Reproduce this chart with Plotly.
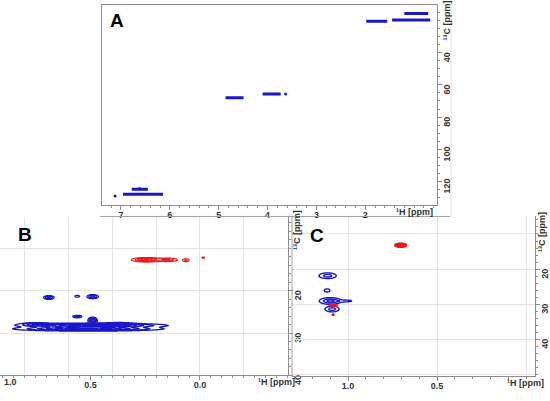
import numpy as np
import plotly.graph_objects as go

BLUE = '#1818c8'
RED = '#ec1a1a'
AXC = '#8c8c8c'
GRID = '#e4e4e4'
TXC = '#333333'
FONT = 'Liberation Sans'

# ---------------- Panel A: HSQC strips (1H start, 1H end, 13C) ----------------
a_h_start = [1.20, 1.98, 1.45, 4.86, 4.10, 6.96, 6.78]
a_h_end = [0.71, 1.55, 0.67, 4.49, 3.73, 6.14, 6.45]
a_c = [15.6, 20.4, 19.7, 68.0, 65.6, 128.0, 124.8]
a_dot_h = [3.63, 7.12, 6.62]
a_dot_c = [65.6, 129.0, 124.4]

# ---------------- Panel B peaks ----------------
b_blue_h = [0.49, 0.51, 0.75, 0.37, 0.69, 0.56, 0.49, 0.56, 0.49]
b_blue_c = [28.2, 29.0, 27.9, 27.9, 21.6, 21.3, 21.4, 26.1, 27.0]
b_blue_amp = [1.0, 1.0, 0.4, 0.4, 0.5, 0.25, 0.5, 0.4, 0.8]
b_blue_wh = [0.25, 0.25, 0.06, 0.06, 0.022, 0.015, 0.024, 0.021, 0.017]
b_blue_wc = [0.40, 0.40, 0.35, 0.35, 0.41, 0.30, 0.45, 0.30, 0.60]

b_red_h = [0.245, 0.15, 0.064, -0.015]
b_red_c = [12.7, 12.7, 12.8, 12.2]
b_red_amp = [1.0, 0.6, 0.4, 0.2]
b_red_wh = [0.05, 0.04, 0.015, 0.012]
b_red_wc = [0.40, 0.35, 0.35, 0.30]

# ---------------- Panel C peaks ----------------
c_blue_h = [1.115, 1.118, 1.10, 1.02, 1.09]
c_blue_c = [21.9, 26.1, 29.1, 29.1, 31.4]
c_blue_amp = [0.7, 0.35, 1.0, 0.4, 0.7]
c_blue_wh = [0.039, 0.017, 0.045, 0.04, 0.032]
c_blue_wc = [0.65, 0.50, 0.70, 0.25, 0.65]

c_red_h = [0.705, 1.084, 1.084]
c_red_c = [13.2, 30.3, 33.0]
c_red_amp = [1.0, 0.6, 0.3]
c_red_wh = [0.025, 0.021, 0.008]
c_red_wc = [0.47, 0.25, 0.30]

# axis tick labels
a_x_ticks = [2, 3, 4, 5, 6, 7]
a_x_text = ['2', '3', '4', '5', '6', '7']
a_y_ticks = [40, 60, 80, 100, 120]
a_y_text = ['40', '60', '80', '100', '120']
b_x_ticks = [0.5, 0.0]
b_x_text = ['0.5', '0.0']
bc_y_ticks = [20, 30, 40]
bc_y_text = ['20', '30', '40']
c_x_ticks = [1.0, 0.5]
c_x_text = ['1.0', '0.5']

W, H = 550, 401


def px_x(p):
    return p / W


def px_y(p):
    return 1 - p / H


def field(hs, cs, amps, whs, wcs):
    hs, cs, amps, whs, wcs = map(np.asarray, (hs, cs, amps, whs, wcs))
    h0, h1 = (hs - 3 * whs).min(), (hs + 3 * whs).max()
    c0, c1 = (cs - 3 * wcs).min(), (cs + 3 * wcs).max()
    nh = int(min(600, max(60, (h1 - h0) / (whs.min() / 4))))
    nc = int(min(400, max(60, (c1 - c0) / (wcs.min() / 4))))
    hg = np.linspace(h0, h1, nh)
    cg = np.linspace(c0, c1, nc)
    HH, CC = np.meshgrid(hg, cg)
    Z = np.zeros_like(HH)
    for h, c, a, wh, wc in zip(hs, cs, amps, whs, wcs):
        Z += a * np.exp(-((HH - h) / wh) ** 2 - ((CC - c) / wc) ** 2)
    return np.round(hg, 4), np.round(cg, 3), np.round(Z, 3)


def contour(hs, cs, amps, whs, wcs, color, xa, ya, step, lw=1.1):
    hg, cg, Z = field(hs, cs, amps, whs, wcs)
    return go.Contour(
        x=hg, y=cg, z=Z, xaxis=xa, yaxis=ya,
        autocontour=False,
        contours=dict(start=0.15, end=0.99, size=step, coloring='lines'),
        colorscale=[[0, color], [1, color]],
        line=dict(width=lw, smoothing=1),
        showscale=False, hoverinfo='skip')


fig = go.Figure()

# empty traces that create the grid-only overlay subplots
for xa, ya in [('x4', 'y2'), ('x2', 'y4'), ('x5', 'y3'), ('x3', 'y5')]:
    fig.add_trace(go.Scatter(x=[], y=[], xaxis=xa, yaxis=ya, showlegend=False, hoverinfo='skip'))

# Panel A strips
for hs, he, c in zip(a_h_start, a_h_end, a_c):
    fig.add_trace(go.Scatter(x=[hs, he], y=[c, c], mode='lines',
                             line=dict(color=BLUE, width=3),
                             xaxis='x', yaxis='y', showlegend=False, hoverinfo='skip'))
fig.add_trace(go.Scatter(x=a_dot_h, y=a_dot_c, mode='markers',
                         marker=dict(color=BLUE, size=3),
                         xaxis='x', yaxis='y', showlegend=False, hoverinfo='skip'))

# Panel B
fig.add_trace(contour(b_blue_h, b_blue_c, b_blue_amp, b_blue_wh, b_blue_wc, BLUE, 'x2', 'y2', 0.14, 1.3))
fig.add_trace(contour(b_red_h, b_red_c, b_red_amp, b_red_wh, b_red_wc, RED, 'x2', 'y2', 0.2))

# Panel C
fig.add_trace(contour(c_blue_h, c_blue_c, c_blue_amp, c_blue_wh, c_blue_wc, BLUE, 'x3', 'y3', 0.35, 1.4))
fig.add_trace(contour(c_red_h, c_red_c, c_red_amp, c_red_wh, c_red_wc, RED, 'x3', 'y3', 0.1))

tickfont = dict(family=FONT, size=9, color=TXC, weight='bold')


def xax(domain, rng, anchor, tv, tt, minor_dtick, mirror=False):
    return dict(domain=domain, range=rng, anchor=anchor, tickmode='array', tickvals=tv,
                ticktext=tt, ticks='outside', ticklen=4, tickcolor=AXC, tickwidth=1,
                showline=True, linecolor=AXC, linewidth=1, mirror=mirror,
                showgrid=False, zeroline=False, ticklabelstandoff=-3,
                tickfont=tickfont, fixedrange=True,
                minor=dict(tickmode='linear', tick0=0, dtick=minor_dtick, ticks='outside',
                           ticklen=2, tickcolor=AXC, showgrid=False))


def yax(domain, rng, anchor, tv, tt, minor_dtick, mirror=False):
    d = xax(domain, rng, anchor, tv, tt, minor_dtick, mirror)
    d.update(side='right', tickangle=-90, ticklabelstandoff=-3, ticklabelshift=-6)
    return d


def gridax(domain, rng, anchor, over, dtick):
    return dict(domain=domain, range=rng, anchor=anchor, overlaying=over,
                tickmode='linear', tick0=0, dtick=dtick, showticklabels=False, ticks='',
                showline=False, showgrid=True, gridcolor=GRID, gridwidth=1, zeroline=False,
                fixedrange=True)


A_X = [px_x(102), px_x(437)]
A_Y = [px_y(210), px_y(5)]
B_X = [0, px_x(288)]
B_Y = [px_y(385), px_y(223)]
C_X = [px_x(292), px_x(535)]
C_Y = [px_y(386), px_y(222)]
A_XR = [7.388, 0.531]
A_YR = [134.5, 10.3]
B_XR = [0.913, -0.402]
B_YR = [40, 2.7]
C_XR = [1.315, -0.05]
C_YR = [50.6, 5.0]

layout = dict(
    width=W, height=H, autosize=False,
    margin=dict(l=0, r=0, t=0, b=0),
    paper_bgcolor='white', plot_bgcolor='rgba(0,0,0,0)',
    showlegend=False,
    xaxis=xax(A_X, A_XR, 'y', a_x_ticks, a_x_text, 0.2, mirror=True),
    yaxis=yax(A_Y, A_YR, 'x', a_y_ticks, a_y_text, 5, mirror=True),
    xaxis2=xax(B_X, B_XR, 'y2', b_x_ticks, b_x_text, 0.05),
    yaxis2=yax(B_Y, B_YR, 'x2', bc_y_ticks, bc_y_text, 2),
    xaxis4=gridax(B_X, B_XR, 'y2', 'x2', 0.2),
    yaxis4=gridax(B_Y, B_YR, 'x2', 'y2', 10),
    xaxis3=xax(C_X, C_XR, 'y3', c_x_ticks, c_x_text, 0.1),
    yaxis3=yax(C_Y, C_YR, 'x3', bc_y_ticks, bc_y_text, 2),
    xaxis5=gridax(C_X, C_XR, 'y3', 'x3', 0.5),
    yaxis5=gridax(C_Y, C_YR, 'x3', 'y3', 10),
)
fig.update_layout(**layout)

annots = []


def note(text, x, y, size=9, angle=0, color=TXC):
    annots.append(dict(text=text, x=px_x(x), y=px_y(y), xref='paper', yref='paper',
                       showarrow=False, textangle=angle, xanchor='center', yanchor='middle',
                       font=dict(family=FONT, size=size, color=color, weight='bold')))


H_TITLE = '\u00b9H [ppm]'
C_TITLE = '\u00b9\u00b3C [ppm]'
note('A', 117, 21, size=19, color='black')
note('B', 25, 241, size=19, color='black')
note('C', 317, 242, size=19, color='black')
note(H_TITLE, 414, 217)
note(C_TITLE, 447, 21, angle=-90)
note(H_TITLE, 276, 392)
note(C_TITLE, 297, 236, angle=-90)
note('1.0', 10, 392)
note(H_TITLE, 525, 393)
note(C_TITLE, 542, 238, angle=-90)
fig.update_layout(annotations=annots)

shapes = [
    dict(type='line', xref='paper', yref='paper', x0=px_x(100), x1=px_x(450),
         y0=px_y(222), y1=px_y(222), line=dict(color='#a0a0a0', width=1)),
    dict(type='line', xref='paper', yref='paper', x0=px_x(292), x1=px_x(292),
         y0=px_y(222), y1=px_y(386), line=dict(color='#a0a0a0', width=1)),
    dict(type='line', xref='paper', yref='paper', x0=px_x(451), x1=px_x(451),
         y0=px_y(0), y1=px_y(222), line=dict(color='#e0e0e0', width=1)),
]
fig.update_layout(shapes=shapes)

fig.write_html('out.html', config={'displayModeBar': False},
               post_script="document.body.style.margin='0';document.body.style.overflow='hidden';")
